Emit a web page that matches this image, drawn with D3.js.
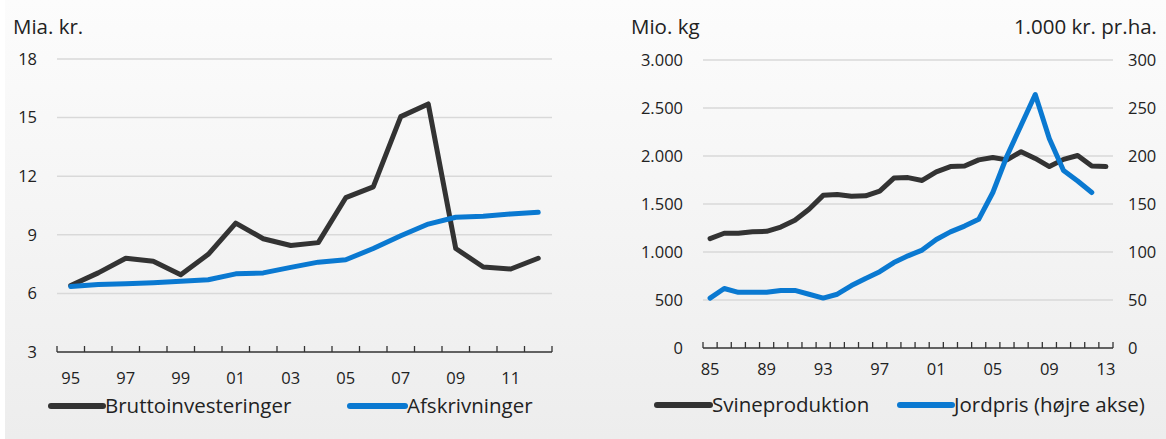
<!DOCTYPE html>
<html>
<head>
<meta charset="utf-8">
<script src="https://cdn.jsdelivr.net/npm/d3@7"></script>
<style>
  body { margin: 0; padding: 0; }
  text { font-family: "Open Sans", "Noto Sans", sans-serif; fill: #222; }
</style>
</head>
<body>
<div id="chart"></div>
<script>
// Data - left panel (investments, bn DKK)
var yearsLeft = [1995, 1996, 1997, 1998, 1999, 2000, 2001, 2002, 2003, 2004, 2005, 2006, 2007, 2008, 2009, 2010, 2011, 2012];
var brutto = [6.4, 7.05, 7.8, 7.65, 6.95, 8.0, 9.6, 8.8, 8.45, 8.6, 10.9, 11.45, 15.05, 15.7, 8.3, 7.35, 7.25, 7.8];
var afskriv = [6.35, 6.45, 6.5, 6.55, 6.62, 6.7, 7.0, 7.05, 7.33, 7.6, 7.72, 8.3, 8.95, 9.55, 9.9, 9.95, 10.07, 10.15];
var leftTicks = [3, 6, 9, 12, 15, 18];
var leftXLabels = [1995, 1997, 1999, 2001, 2003, 2005, 2007, 2009, 2011];

// Data - right panel
var yearsRight = [1985, 1986, 1987, 1988, 1989, 1990, 1991, 1992, 1993, 1994, 1995, 1996, 1997, 1998, 1999, 2000, 2001, 2002, 2003, 2004, 2005, 2006, 2007, 2008, 2009, 2010, 2011, 2012, 2013];
var svin = [1140, 1195, 1195, 1210, 1215, 1260, 1330, 1445, 1590, 1600, 1580, 1585, 1635, 1770, 1775, 1745, 1835, 1890, 1895, 1960, 1985, 1960, 2045, 1975, 1890, 1965, 2005, 1895, 1890];
var jordpris = [52, 62, 58, 58, 58, 60, 60, 56, 52, 56, 65, 72.5, 79.5, 89, 96, 102, 113, 121, 127, 134, 162, 200, 232, 264, 218, 185, 174, 162];
var rightTicksL = [0, 500, 1000, 1500, 2000, 2500, 3000];
var rightTicksR = [0, 50, 100, 150, 200, 250, 300];
var rightXLabels = [1985, 1989, 1993, 1997, 2001, 2005, 2009, 2013];

var svgWidth = 1166;
var svgHeight = 439;
var darkColor = "#333333";
var blueColor = "#0a79d1";
var gridColor = "#d9d9d9";
var fontSize = "16.5px";
var labelSize = "20.5px";

var svg = d3.select("#chart")
    .append("svg")
    .attr("width", svgWidth)
    .attr("height", svgHeight);

// background gradient
var grad = svg.append("defs").append("linearGradient")
    .attr("id", "bg")
    .attr("x1", 0).attr("y1", 0).attr("x2", 0).attr("y2", 1);
grad.append("stop").attr("offset", "0%").attr("stop-color", "#fcfcfc");
grad.append("stop").attr("offset", "100%").attr("stop-color", "#ededed");

svg.append("rect")
    .attr("width", svgWidth)
    .attr("height", svgHeight)
    .attr("fill", "#ffffff");
svg.append("rect")
    .attr("x", 5)
    .attr("width", svgWidth - 5)
    .attr("height", svgHeight)
    .attr("fill", "url(#bg)");

function fmt(v) {
    return d3.format(",")(v).replace(/,/g, ".");
}

function twoDigit(y) {
    return String(y).slice(2);
}

// ---------------- Left panel ----------------
var xLeft = d3.scaleBand()
    .domain(yearsLeft)
    .range([57, 552]);

var yLeft = d3.scaleLinear()
    .domain([3, 18])
    .range([352, 59]);

// gridlines
svg.append("g").selectAll("line")
    .data(leftTicks.filter(d => d > 3))
    .enter()
    .append("line")
    .attr("x1", 57)
    .attr("x2", 552)
    .attr("y1", d => yLeft(d))
    .attr("y2", d => yLeft(d))
    .attr("stroke", gridColor)
    .attr("stroke-width", 1.5);

// y labels
svg.append("g").selectAll("text")
    .data(leftTicks)
    .enter()
    .append("text")
    .attr("x", 37)
    .attr("y", d => yLeft(d))
    .attr("dy", "0.35em")
    .attr("text-anchor", "end")
    .style("font-size", fontSize)
    .text(d => d);

// x axis line and ticks (ticks point up)
svg.append("line")
    .attr("x1", 57).attr("x2", 552)
    .attr("y1", yLeft(3)).attr("y2", yLeft(3))
    .attr("stroke", darkColor).attr("stroke-width", 1.5);
svg.append("g").selectAll("line")
    .data(yearsLeft.concat(["end"]))
    .enter()
    .append("line")
    .attr("x1", d => d === "end" ? 552 : xLeft(d))
    .attr("x2", d => d === "end" ? 552 : xLeft(d))
    .attr("y1", yLeft(3))
    .attr("y2", yLeft(3) - 6)
    .attr("stroke", darkColor)
    .attr("stroke-width", 1.3);

svg.append("g").selectAll("text")
    .data(leftXLabels)
    .enter()
    .append("text")
    .attr("x", d => xLeft(d) + xLeft.bandwidth() / 2)
    .attr("y", 378)
    .attr("dy", "0.35em")
    .attr("text-anchor", "middle")
    .style("font-size", fontSize)
    .text(twoDigit);

var lineLeft = function(values) {
    return d3.line()
        .x((d, i) => xLeft(yearsLeft[i]) + xLeft.bandwidth() / 2)
        .y(d => yLeft(d))(values);
};

svg.append("path")
    .attr("d", lineLeft(brutto))
    .attr("fill", "none")
    .attr("stroke", darkColor)
    .attr("stroke-width", 5)
    .attr("stroke-linejoin", "round")
    .attr("stroke-linecap", "round");

svg.append("path")
    .attr("d", lineLeft(afskriv))
    .attr("fill", "none")
    .attr("stroke", blueColor)
    .attr("stroke-width", 5)
    .attr("stroke-linejoin", "round")
    .attr("stroke-linecap", "round");

svg.append("text")
    .attr("x", 13)
    .attr("y", 34)
    .style("font-size", labelSize)
    .text("Mia. kr.");

// ---------------- Right panel ----------------
var xRight = d3.scaleBand()
    .domain(yearsRight)
    .range([703, 1113]);

var yRightL = d3.scaleLinear()
    .domain([0, 3000])
    .range([348, 60]);

var yRightR = d3.scaleLinear()
    .domain([0, 300])
    .range([348, 60]);

svg.append("g").selectAll("line")
    .data(rightTicksL.filter(d => d > 0))
    .enter()
    .append("line")
    .attr("x1", 703)
    .attr("x2", 1113)
    .attr("y1", d => yRightL(d))
    .attr("y2", d => yRightL(d))
    .attr("stroke", gridColor)
    .attr("stroke-width", 1.5);

svg.append("g").selectAll("text")
    .data(rightTicksL)
    .enter()
    .append("text")
    .attr("x", 683)
    .attr("y", d => yRightL(d))
    .attr("dy", "0.35em")
    .attr("text-anchor", "end")
    .style("font-size", fontSize)
    .text(fmt);

svg.append("g").selectAll("text")
    .data(rightTicksR)
    .enter()
    .append("text")
    .attr("x", 1128)
    .attr("y", d => yRightR(d))
    .attr("dy", "0.35em")
    .attr("text-anchor", "start")
    .style("font-size", fontSize)
    .text(fmt);

svg.append("line")
    .attr("x1", 703).attr("x2", 1113)
    .attr("y1", yRightL(0)).attr("y2", yRightL(0))
    .attr("stroke", darkColor).attr("stroke-width", 1.5);
svg.append("g").selectAll("line")
    .data(yearsRight.concat(["end"]))
    .enter()
    .append("line")
    .attr("x1", d => d === "end" ? 1113 : xRight(d))
    .attr("x2", d => d === "end" ? 1113 : xRight(d))
    .attr("y1", yRightL(0))
    .attr("y2", yRightL(0) - 6)
    .attr("stroke", darkColor)
    .attr("stroke-width", 1.3);

svg.append("g").selectAll("text")
    .data(rightXLabels)
    .enter()
    .append("text")
    .attr("x", d => xRight(d) + xRight.bandwidth() / 2)
    .attr("y", 369)
    .attr("dy", "0.35em")
    .attr("text-anchor", "middle")
    .style("font-size", fontSize)
    .text(twoDigit);

var lineSvin = d3.line()
    .x((d, i) => xRight(yearsRight[i]) + xRight.bandwidth() / 2)
    .y(d => yRightL(d));

var lineJord = d3.line()
    .x((d, i) => xRight(yearsRight[i]) + xRight.bandwidth() / 2)
    .y(d => yRightR(d));

svg.append("path")
    .attr("d", lineSvin(svin))
    .attr("fill", "none")
    .attr("stroke", darkColor)
    .attr("stroke-width", 5)
    .attr("stroke-linejoin", "round")
    .attr("stroke-linecap", "round");

svg.append("path")
    .attr("d", lineJord(jordpris))
    .attr("fill", "none")
    .attr("stroke", blueColor)
    .attr("stroke-width", 5)
    .attr("stroke-linejoin", "round")
    .attr("stroke-linecap", "round");

svg.append("text")
    .attr("x", 631)
    .attr("y", 34)
    .style("font-size", labelSize)
    .text("Mio. kg");

svg.append("text")
    .attr("x", 1157)
    .attr("y", 34)
    .attr("text-anchor", "end")
    .style("font-size", labelSize)
    .text("1.000 kr. pr.ha.");

// ---------------- Legends ----------------
var legendItems = [
    {x1: 51, x2: 103, y: 406, color: darkColor, label: "Bruttoinvesteringer"},
    {x1: 350, x2: 405, y: 406, color: blueColor, label: "Afskrivninger"},
    {x1: 657, x2: 710, y: 405, color: darkColor, label: "Svineproduktion"},
    {x1: 900, x2: 952, y: 405, color: blueColor, label: "Jordpris (højre akse)"}
];

var legend = svg.append("g").selectAll("g")
    .data(legendItems)
    .enter()
    .append("g");

legend.append("line")
    .attr("x1", d => d.x1)
    .attr("x2", d => d.x2)
    .attr("y1", d => d.y)
    .attr("y2", d => d.y)
    .attr("stroke", d => d.color)
    .attr("stroke-width", 6)
    .attr("stroke-linecap", "round");

legend.append("text")
    .attr("x", d => d.x2 + 2)
    .attr("y", d => d.y)
    .attr("dy", "0.35em")
    .style("font-size", labelSize)
    .text(d => d.label);
</script>
</body>
</html>
